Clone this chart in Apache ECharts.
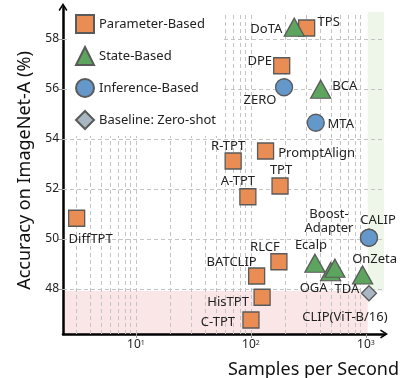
<!DOCTYPE html>
<html>
<head>
<meta charset="utf-8">
<script src="https://cdn.jsdelivr.net/npm/echarts@6/dist/echarts.min.js"></script>
<style>
html, body { margin: 0; padding: 0; background: #fff; }
#chart { width: 401px; height: 378px; }
</style>
</head>
<body>
<div id="chart"></div>
<script>
var chart = echarts.init(document.getElementById('chart'));

// samples per second, accuracy
var paramNames = ['TPS', 'DPE', 'R-TPT', 'PromptAlign', 'TPT', 'A-TPT', 'DiffTPT', 'RLCF', 'BATCLIP', 'HisTPT', 'C-TPT'];
var paramSpeed = [305, 185, 70, 134, 179, 94, 3.05, 175, 112, 125, 100];
var paramAcc = [58.44, 56.93, 53.12, 53.52, 52.12, 51.69, 50.83, 49.09, 48.52, 47.67, 46.76];

var stateNames = ['DoTA', 'BCA', 'Ecalp', 'OGA', 'TDA', 'OnZeta'];
var stateSpeed = [238, 404, 360, 493, 537, 935];
var stateAcc = [58.47, 55.99, 49.03, 48.69, 48.83, 48.56];

var inferNames = ['ZERO', 'MTA', 'Boost-Adapter', 'CALIP'];
var inferSpeed = [194, 366, 1062, 1062];
var inferAcc = [56.07, 54.65, 50.05, 50.05];

var baseNames = ['CLIP(ViT-B/16)'];
var baseSpeed = [1062];
var baseAcc = [47.83];

var yTicks = [48, 50, 52, 54, 56, 58];
var xTicks = [10, 100, 1000];

// label offsets from the marker centre (px)
var labelOffset = {
	'TPS': [22, -6], 'DoTA': [-28, 2], 'DPE': [-22, -4], 'ZERO': [-24, 13],
	'BCA': [24, -3], 'MTA': [25, 2], 'R-TPT': [-5, -15], 'PromptAlign': [51, 2],
	'TPT': [1, -16], 'A-TPT': [-10, -15], 'DiffTPT': [14, 21], 'Boost-Adapter': [-40, -16],
	'CALIP': [9, -17], 'RLCF': [-14, -14], 'Ecalp': [-4, -18], 'BATCLIP': [-25, -14],
	'HisTPT': [-34, 5], 'C-TPT': [-33, 2], 'OGA': [-17, 17], 'TDA': [12, 21],
	'OnZeta': [12, -16], 'CLIP(ViT-B/16)': [-24, 24]
};

var xMin = 2.32, xMax = 1435, yMin = 46.2, yMax = 59.28;
var gridTopVal = 59.08, bandSplit = 47.92, bandX = 1035;
var font = 'Noto Sans';

function points(names, xs, ys) {
	return names.map(function(n, i) {
		var off = labelOffset[n] || [0, 0];
		return {
			name: n,
			value: [xs[i], ys[i]],
			label: { offset: off }
		};
	});
}

// dashed grid at 1..9 x 10^k and at y ticks
var gridLines = [];
[1, 10, 100].forEach(function(d) {
	for (var k = 1; k <= 9; k++) {
		var v = d * k;
		if (v > xMin && v <= 1000) {
			gridLines.push([{ coord: [v, yMin] }, { coord: [v, gridTopVal] }]);
		}
	}
});
yTicks.forEach(function(t) {
	gridLines.push([{ coord: [xMin, t] }, { coord: [1380, t] }]);
});

var labelStyle = {
	show: true,
	position: 'inside',
	formatter: function(p) { return p.name.replace('Boost-', 'Boost-\n'); },
	fontFamily: font,
	fontSize: 13,
	lineHeight: 14,
	color: '#222'
};

var arrow = 'path://M0,8 L5,0 L10,8 L8.6,9 L5,3.2 L1.4,9 Z';

var option = {
	animation: false,
	backgroundColor: '#fff',
	textStyle: { fontFamily: font },
	grid: { left: 63, right: 17, top: 7, bottom: 44, containLabel: false, outerBoundsMode: 'none' },
	legend: {
		data: ['Parameter-Based', 'State-Based', 'Inference-Based', 'Baseline: Zero-shot'],
		orient: 'vertical',
		left: 70,
		top: 7,
		z: 10,
		padding: [7, 6, 6, 5],
		backgroundColor: '#fff',
		itemWidth: 18,
		itemHeight: 18,
		itemGap: 12,
		textStyle: { fontFamily: font, fontSize: 13, color: '#222', lineHeight: 18 }
	},
	xAxis: {
		type: 'log',
		logBase: 10,
		min: xMin,
		max: xMax,
		name: 'Samples per Second',
		nameLocation: 'middle',
		nameGap: 27,
		nameTextStyle: { fontFamily: font, fontSize: 18, color: '#111', padding: [0, 0, 0, 180] },
		axisLine: { lineStyle: { color: '#000', width: 2.5 }, symbol: ['none', arrow], symbolSize: [10, 8] },
		axisTick: { show: true, customValues: xTicks, length: 4, lineStyle: { color: '#999' } },
		axisLabel: {
			customValues: xTicks,
			formatter: function(v) {
				return '10{s|' + Math.round(Math.log10(v)) + '}';
			},
			fontFamily: font,
			fontSize: 12,
			color: '#222',
			margin: 5,
			rich: { s: { fontSize: 7, verticalAlign: 'top', padding: [0, 0, 5, 0] } }
		},
		splitLine: { show: false },
		minorTick: { show: false }
	},
	yAxis: {
		type: 'value',
		min: yMin,
		max: yMax,
		name: 'Accuracy on ImageNet-A (%)',
		nameLocation: 'middle',
		nameGap: 28,
		nameTextStyle: { fontFamily: font, fontSize: 18, color: '#111' },
		axisLine: { show: true, lineStyle: { color: '#000', width: 2.5 }, symbol: ['none', arrow], symbolSize: [10, 8] },
		axisTick: { show: true, customValues: yTicks, length: 5, lineStyle: { color: '#999' } },
		axisLabel: { customValues: yTicks, fontFamily: font, fontSize: 12, color: '#222', margin: 4 },
		splitLine: { show: false }
	},
	series: [
		{
			name: 'bg',
			type: 'scatter',
			data: [],
			z: 0,
			silent: true,
			markArea: {
				silent: true,
				z: 0,
				data: [
					[{ coord: [xMin, yMin], itemStyle: { color: '#fbe6e7' } }, { coord: [bandX, bandSplit] }],
					[{ coord: [bandX, bandSplit], itemStyle: { color: '#eef6ea' } }, { coord: [xMax, gridTopVal] }]
				]
			},
			markLine: {
				silent: true,
				z: 1,
				symbol: 'none',
				label: { show: false },
				lineStyle: { color: '#c4c4c4', type: [4, 3], width: 1 },
				data: gridLines
			}
		},
		{
			name: 'Parameter-Based',
			type: 'scatter',
			symbol: 'rect',
			symbolSize: 16,
			itemStyle: { color: '#e98d54', borderColor: '#5a5a5a', borderWidth: 1.3, opacity: 1 },
			label: labelStyle,
			data: points(paramNames, paramSpeed, paramAcc)
		},
		{
			name: 'State-Based',
			type: 'scatter',
			symbol: 'triangle',
			symbolSize: [20, 18],
			itemStyle: { color: '#5da55e', borderColor: '#5a5a5a', borderWidth: 1.3, opacity: 1 },
			label: labelStyle,
			data: points(stateNames, stateSpeed, stateAcc)
		},
		{
			name: 'Inference-Based',
			type: 'scatter',
			symbol: 'circle',
			symbolSize: 17,
			itemStyle: { color: '#6498cb', borderColor: '#5a5a5a', borderWidth: 1.3, opacity: 1 },
			label: labelStyle,
			data: points(inferNames, inferSpeed, inferAcc)
		},
		{
			name: 'Baseline: Zero-shot',
			type: 'scatter',
			symbol: 'diamond',
			symbolSize: 15,
			itemStyle: { color: '#a8b7c1', borderColor: '#5a5a5a', borderWidth: 1.3, opacity: 1 },
			label: labelStyle,
			data: points(baseNames, baseSpeed, baseAcc)
		}
	]
};

chart.setOption(option);

window.onresize = function() {
	chart.resize();
};
</script>
</body>
</html>
